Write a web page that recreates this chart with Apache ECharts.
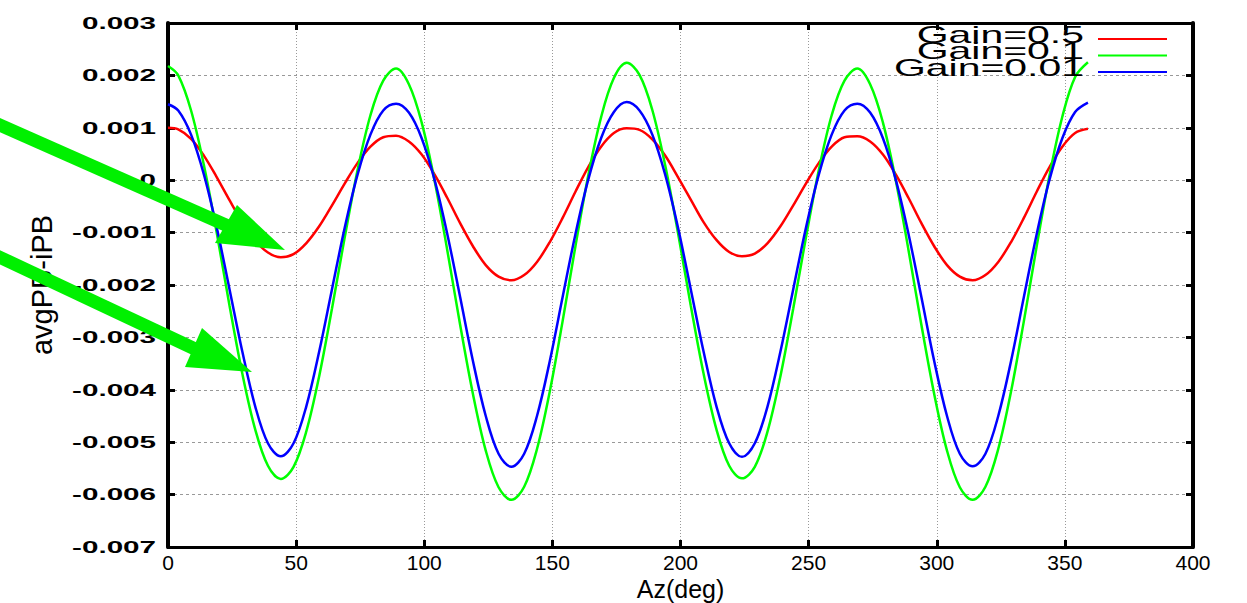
<!DOCTYPE html>
<html><head><meta charset="utf-8">
<script src="https://cdn.jsdelivr.net/npm/echarts@6/dist/echarts.min.js"></script>
<style>html,body{margin:0;padding:0;background:#fff}#c{width:1247px;height:603px}</style>
</head><body><div id="c"></div>
<script>
// ---- data ----
const az = [0,4,9,14,19,24,29,34,39,44,49,54,59,64,69,74,79,84,89,94,99,104,109,114,119,124,129,134,139,144,149,154,159,164,169,174,179,
  184,189,194,199,204,209,214,219,224,229,234,239,244,249,254,259,264,269,274,279,284,289,294,299,304,309,314,319,324,329,334,339,344,349,354,359];
const seriesNames = ['Gain=0.5','Gain=0.1','Gain=0.01'];
const seriesColors = ['#ff0000','#00ff00','#0000ff'];
const gain05 = [0.00100,0.00097,0.00079,0.00047,0.00006,-0.00038,-0.00080,-0.00115,-0.00138,-0.00147,-0.00141,-0.00120,-0.00088,-0.00048,-0.00006,0.00033,0.00064,0.00082,0.00085,0.00074,0.00049,0.00011,-0.00034,-0.00082,-0.00126,-0.00162,-0.00184,-0.00191,-0.00181,-0.00156,-0.00118,-0.00072,-0.00022,0.00025,0.00064,0.00090,0.00099,
  0.00096,0.00078,0.00047,0.00006,-0.00037,-0.00080,-0.00114,-0.00137,-0.00145,-0.00140,-0.00120,-0.00088,-0.00048,-0.00006,0.00033,0.00064,0.00082,0.00084,0.00074,0.00049,0.00011,-0.00034,-0.00082,-0.00126,-0.00162,-0.00184,-0.00191,-0.00181,-0.00156,-0.00118,-0.00072,-0.00022,0.00025,0.00064,0.00090,0.00098];
const gain01 = [0.00218,0.00200,0.00133,0.00029,-0.00100,-0.00239,-0.00369,-0.00475,-0.00545,-0.00570,-0.00547,-0.00479,-0.00374,-0.00245,-0.00108,0.00020,0.00124,0.00190,0.00213,0.00183,0.00110,0.00000,-0.00134,-0.00276,-0.00408,-0.00516,-0.00586,-0.00610,-0.00585,-0.00513,-0.00403,-0.00269,-0.00126,0.00009,0.00120,0.00195,0.00224,
  0.00201,0.00134,0.00029,-0.00100,-0.00239,-0.00369,-0.00475,-0.00545,-0.00569,-0.00547,-0.00479,-0.00374,-0.00245,-0.00108,0.00020,0.00124,0.00190,0.00213,0.00183,0.00110,0.00000,-0.00134,-0.00276,-0.00408,-0.00516,-0.00586,-0.00610,-0.00585,-0.00513,-0.00403,-0.00269,-0.00126,0.00009,0.00121,0.00197,0.00225];
const gain001 = [0.00145,0.00133,0.00087,0.00011,-0.00090,-0.00208,-0.00327,-0.00431,-0.00502,-0.00527,-0.00502,-0.00431,-0.00327,-0.00208,-0.00090,0.00011,0.00087,0.00133,0.00146,0.00129,0.00080,0.00001,-0.00103,-0.00223,-0.00345,-0.00450,-0.00522,-0.00547,-0.00522,-0.00450,-0.00345,-0.00223,-0.00103,0.00001,0.00080,0.00130,0.00149,
  0.00133,0.00087,0.00011,-0.00090,-0.00208,-0.00327,-0.00431,-0.00502,-0.00528,-0.00502,-0.00431,-0.00327,-0.00208,-0.00090,0.00011,0.00087,0.00133,0.00146,0.00129,0.00080,0.00001,-0.00103,-0.00223,-0.00345,-0.00450,-0.00522,-0.00546,-0.00522,-0.00450,-0.00345,-0.00223,-0.00103,0.00001,0.00080,0.00130,0.00148];
const yTickValues = [-0.007,-0.006,-0.005,-0.004,-0.003,-0.002,-0.001,0,0.001,0.002,0.003];
const yTickLabels = ['-0.007','-0.006','-0.005','-0.004','-0.003','-0.002','-0.001','0','0.001','0.002','0.003'];
const xAxisTitle = 'Az(deg)';
const yAxisTitle = 'avgPB-iPB';

// ---- chart ----
const chart = echarts.init(document.getElementById('c'), null, {renderer:'svg'});
const allData = [gain05, gain01, gain001];
const axisLineStyle = {color:'#000', width:3};
const tickStyle = {show:true, inside:true, length:7, lineStyle:{color:'#000', width:3}};
chart.setOption({
  animation:false,
  backgroundColor:'#fff',
  grid:{left:168, top:23, right:54, bottom:56, containLabel:false, outerBoundsMode:'none'},
  xAxis:[
    {type:'value', min:0, max:400, interval:50, position:'bottom',
     axisLine:{show:true, onZero:false, lineStyle:axisLineStyle}, axisTick:tickStyle,
     axisLabel:{fontFamily:'Liberation Sans', fontSize:21, lineHeight:20, color:'#000', margin:5},
     splitLine:{show:true, lineStyle:{color:'#999', type:[1,2], width:1}},
     name:xAxisTitle, nameLocation:'middle', nameGap:29, nameMoveOverlap:false,
     nameTextStyle:{fontFamily:'Liberation Sans', fontSize:25, color:'#000', lineHeight:25}},
    {type:'value', min:0, max:400, interval:50, position:'top',
     axisLine:{show:true, onZero:false, lineStyle:axisLineStyle}, axisTick:tickStyle,
     axisLabel:{show:false}, splitLine:{show:false}}
  ],
  yAxis:[
    {type:'value', min:-0.007, max:0.003, interval:0.001, position:'left',
     axisLine:{show:true, onZero:false, lineStyle:{color:'#000', width:4}}, axisTick:tickStyle,
     axisLabel:{show:false},
     splitLine:{show:true, lineStyle:{color:'#999', type:[3,3], width:1}},
     name:yAxisTitle, nameLocation:'middle', nameRotate:90, nameGap:112, nameMoveOverlap:false,
     nameTextStyle:{fontFamily:'Liberation Sans', fontSize:29, color:'#000'}},
    {type:'value', min:-0.007, max:0.003, interval:0.001, position:'right',
     axisLine:{show:true, onZero:false, lineStyle:{color:'#000', width:4}}, axisTick:tickStyle,
     axisLabel:{show:false}, splitLine:{show:false}}
  ],
  series: seriesNames.map((n,k)=>({
    name:n, type:'line', xAxisIndex:0, yAxisIndex:0, showSymbol:false, smooth:0.35,
    lineStyle:{color:seriesColors[k], width:2.5}, itemStyle:{color:seriesColors[k]},
    z:2+k,
    data: az.map((x,i)=>[x, allData[k][i]])
  }))
});

// ---- overlay: stretched y tick labels, legend, arrows ----
const g = [];
yTickValues.forEach((v,i)=>{
  const py = chart.convertToPixel({yAxisIndex:0}, v);
  g.push({type:'text', x:156, y:py, scaleX:1.85, z:50,
    style:{text:yTickLabels[i], fontFamily:'Liberation Sans', fontWeight:'bold', fontSize:16, fill:'#000', align:'right', verticalAlign:'middle'}});
});
const legendTop = 39, legendStep = 16.5;
seriesNames.forEach((n,k)=>{
  const y = legendTop + k*legendStep;
  g.push({type:'text', x:1084, y:y-4, scaleX:1.78, z:60,
    style:{text:n, fontFamily:'Liberation Sans', fontSize:23, fill:'#000', align:'right', verticalAlign:'middle'}});
  g.push({type:'line', z:60, shape:{x1:1098, y1:y, x2:1167, y2:y}, style:{stroke:seriesColors[k], lineWidth:2}});
});
const arrowColor = '#00f000';
// arrow 1
g.push({type:'line', z:100, shape:{x1:-5, y1:123, x2:228, y2:226}, style:{stroke:arrowColor, lineWidth:13}});
g.push({type:'polygon', z:100, shape:{points:[[237,205],[215,243],[285,250]]}, style:{fill:arrowColor}});
// arrow 2
g.push({type:'line', z:100, shape:{x1:-5, y1:255, x2:195, y2:349}, style:{stroke:arrowColor, lineWidth:13}});
g.push({type:'polygon', z:100, shape:{points:[[202,328],[185,367],[252,372]]}, style:{fill:arrowColor}});
chart.setOption({graphic:g});
</script></body></html>
